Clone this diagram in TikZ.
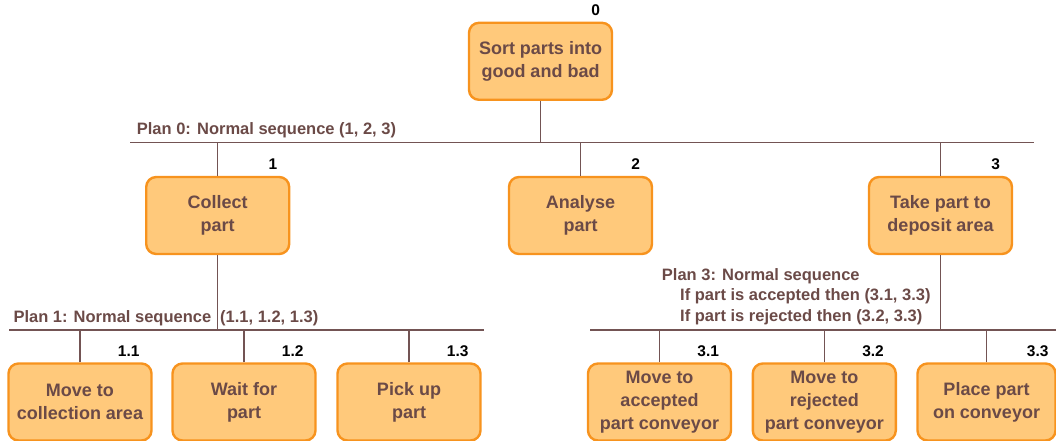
\documentclass[tikz,border=0pt]{standalone}
\usepackage{fontspec}
\setmainfont{Liberation Sans}
\definecolor{boxfill}{HTML}{FFC97B}
\definecolor{boxedge}{HTML}{F7931E}
\definecolor{boxtext}{HTML}{6B4A47}
\definecolor{wire}{HTML}{735454}
\tikzset{
  task/.style={draw=boxedge, fill=boxfill, line width=2.4pt, rounded corners=10pt,
    minimum width=143pt, minimum height=77pt, inner sep=0pt, align=center,
    text=boxtext, font=\bfseries\fontsize{18}{23}\selectfont},
  num/.style={anchor=base east, inner sep=0pt, text=black,
    font=\bfseries\fontsize{15.5}{17}\selectfont},
  plan/.style={anchor=base west, inner sep=0pt, text=boxtext,
    font=\bfseries\fontsize{16.5}{20.7}\selectfont},
  wireline/.style={draw=wire, line width=1.5pt}
}
\begin{document}
\begin{tikzpicture}[x=1pt, y=-1pt]
\useasboundingbox (0,0) rectangle (1056,441);

% task boxes
\node[task] (n0)  at (540.5,61.3) {Sort parts into\\good and bad};
\node[task] (n1)  at (217.7,215.5) {Collect\\part};
\node[task] (n2)  at (580.5,215.5) {Analyse\\part};
\node[task] (n3)  at (940.5,215.5) {Take part to\\deposit area};
\node[task] (n11) at (80,402) {Move to\\collection area};
\node[task] (n12) at (244,402) {Wait for\\part};
\node[task] (n13) at (409,402) {Pick up\\part};
\node[task] (n31) at (659.5,402) {Move to\\accepted\\part conveyor};
\node[task] (n32) at (824.3,402) {Move to\\rejected\\part conveyor};
\node[task, minimum width=138pt] (n33) at (986.5,402) {Place part\\on conveyor};

% task numbers
\foreach \n/\t in {n0/0, n1/1, n2/2, n3/3, n11/1.1, n12/1.2, n13/1.3, n31/3.1, n32/3.2}
  \path (\n.north east) ++(-13,-6) node[num] (l\n) {\t};
\path (n33.north east) ++(-8,-6) node[num] (ln33) {3.3};

% plan buses
\coordinate (b0l) at (130,142.3);
\coordinate (b0r) at (1034,142.3);
\coordinate (b1l) at (9.3,330);
\coordinate (b1r) at (484.3,330);
\coordinate (b3l) at (590,330);
\coordinate (b3r) at (1056,330);
\draw[wireline] (b0l) -- (b0r);
\draw[wireline] (b1l) -- (b1r);
\draw[wireline] (b3l) -- (b3r);

% connectors
\draw[wireline] (n0.south) -- (n0.south |- b0l);
\foreach \n in {n1, n2, n3}
  \draw[wireline] (\n.north) -- (\n.north |- b0l);
\draw[wireline] (n1.south) -- (n1.south |- b1l);
\foreach \n in {n11, n12, n13}
  \draw[wireline] (\n.north) -- (\n.north |- b1l);
\draw[wireline] (n3.south) -- (n3.south |- b3l);
\foreach \n in {n31, n32, n33}
  \draw[wireline] (\n.north) -- (\n.north |- b3l);

% plans
\node[plan] (p0) at (136.7,134) {Plan 0: Normal sequence (1, 2, 3)};
\node[plan] (p1a) at (13.3,322.5) {Plan 1: Normal sequence};
\node[plan] (p1b) at (220,322.5) {(1.1, 1.2, 1.3)};
\node[plan] (p3a) at (661.7,280) {Plan 3: Normal sequence};
\node[plan] (p3b) at (680,300.7) {If part is accepted then (3.1, 3.3)};
\node[plan] (p3c) at (680,321.4) {If part is rejected then (3.2, 3.3)};
\end{tikzpicture}
\end{document}
